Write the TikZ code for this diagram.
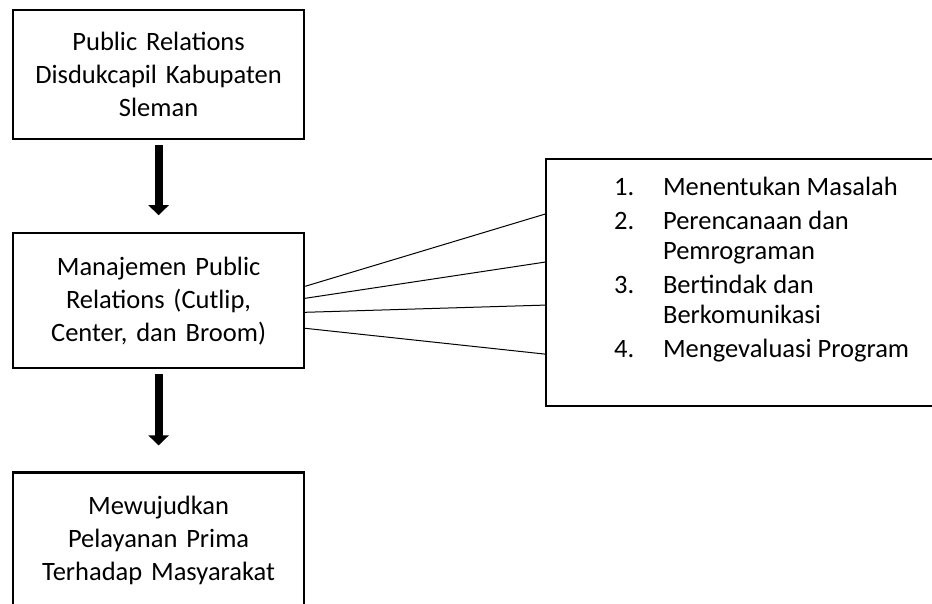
\documentclass[tikz,border=0pt]{standalone}
\usepackage{fontspec}
\setmainfont{Carlito}
\usetikzlibrary{arrows.meta,positioning}

\begin{document}
\begin{tikzpicture}[x=1pt, y=-1pt, thick]
    % Gaya
    \tikzstyle{kotak}=[rectangle, draw=black, line width=2.2pt, minimum width=291pt, minimum height=135pt, text width=280pt, align=center, font=\fontsize{26.5}{33}\selectfont]
    \tikzstyle{daftar}=[rectangle, draw=black, line width=2.2pt, inner xsep=68pt, inner ysep=0pt, font=\fontsize{26.5}{30}\selectfont]
    \tikzstyle{panah}=[line width=8pt, -{Triangle[width=20pt, length=10pt]}, shorten <=5pt]
    \tikzstyle{garis}=[line width=1pt]

    \useasboundingbox (0,0) rectangle (932,604);
    \clip (0,0) rectangle (932,604);

    % Node
    \node (pr) [kotak, minimum height=129pt, anchor=north west] at (12,9) {Public Relations\\ Disdukcapil Kabupaten\\ Sleman};
    \node (manajemen) [kotak, below=92pt of pr] {Manajemen Public\\ Relations (Cutlip,\\ Center, dan Broom)};
    \node (prima) [kotak, below=102pt of manajemen] {Mewujudkan\\ Pelayanan Prima\\ Terhadap Masyarakat};
    \node (tahap) [daftar, anchor=north west] at (545,158) {%
        \begin{minipage}[c][247pt][t]{300pt}
        \vspace*{15pt}
        \begin{tabular}{@{}p{49pt}@{}l@{}}
        1. & Menentukan Masalah \\[4pt]
        2. & Perencanaan dan \\
           & Pemrograman \\[4pt]
        3. & Bertindak dan \\
           & Berkomunikasi \\[4pt]
        4. & Mengevaluasi Program
        \end{tabular}
        \end{minipage}};

    % Panah
    \draw [panah, shorten >=17pt] (pr) -- (manajemen);
    \draw [panah, shorten >=26pt] (manajemen) -- (prima);

    % Garis
    \draw [garis] ([yshift=14.5pt]manajemen.east) -- ([yshift=68.5pt]tahap.west);
    \draw [garis] ([yshift=2.5pt]manajemen.east) -- ([yshift=20.5pt]tahap.west);
    \draw [garis] ([yshift=-11.5pt]manajemen.east) -- ([yshift=-22.5pt]tahap.west);
    \draw [garis] ([yshift=-27.5pt]manajemen.east) -- ([yshift=-71.5pt]tahap.west);
\end{tikzpicture}
\end{document}
